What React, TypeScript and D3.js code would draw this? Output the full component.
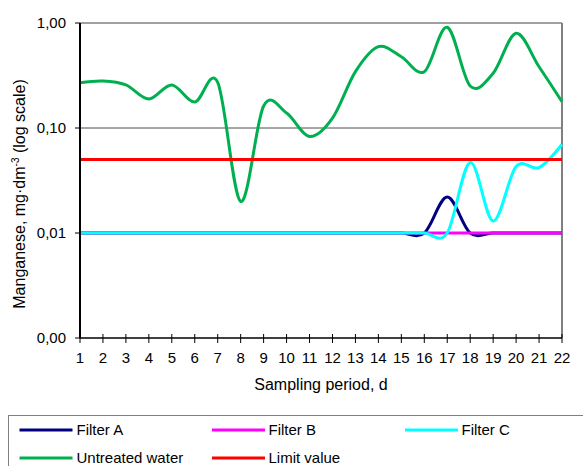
import React from "react";
import * as d3 from "d3";

const days = [1, 2, 3, 4, 5, 6, 7, 8, 9, 10, 11, 12, 13, 14, 15, 16, 17, 18, 19, 20, 21, 22];
const filterA = [0.01, 0.01, 0.01, 0.01, 0.01, 0.01, 0.01, 0.01, 0.01, 0.01, 0.01, 0.01, 0.01, 0.01, 0.01, 0.01, 0.022, 0.01, 0.01, 0.01, 0.01, 0.01];
const filterB = [0.01, 0.01, 0.01, 0.01, 0.01, 0.01, 0.01, 0.01, 0.01, 0.01, 0.01, 0.01, 0.01, 0.01, 0.01, 0.01, 0.01, 0.01, 0.01, 0.01, 0.01, 0.01];
const filterC = [0.01, 0.01, 0.01, 0.01, 0.01, 0.01, 0.01, 0.01, 0.01, 0.01, 0.01, 0.01, 0.01, 0.01, 0.01, 0.01, 0.01, 0.047, 0.013, 0.043, 0.042, 0.07];
const untreated = [0.27, 0.28, 0.257, 0.189, 0.257, 0.177, 0.272, 0.02, 0.162, 0.139, 0.083, 0.124, 0.344, 0.595, 0.477, 0.344, 0.91, 0.251, 0.332, 0.798, 0.383, 0.178];
const limit = [0.05, 0.05, 0.05, 0.05, 0.05, 0.05, 0.05, 0.05, 0.05, 0.05, 0.05, 0.05, 0.05, 0.05, 0.05, 0.05, 0.05, 0.05, 0.05, 0.05, 0.05, 0.05];

const yTickValues = [0.001, 0.01, 0.1, 1];
const yTickLabels = ["0,00", "0,01", "0,10", "1,00"];

const seriesNames = ["Filter A", "Filter B", "Filter C", "Untreated water", "Limit value"];
const seriesColors = ["#000080", "#FF00FF", "#00FFFF", "#00B050", "#FF0000"];
const seriesData = [filterA, filterB, filterC, untreated, limit];

const FONT = "'Liberation Sans', Arial, sans-serif";

export default function App() {
  const left = 80, right = 562, top = 23, bottom = 338;
  const x = d3.scaleLinear().domain([1, 22]).range([left, right]);
  const y = d3.scaleLog().domain([0.001, 1]).range([bottom, top]);
  const line = d3
    .line<number>()
    .x((_, i) => x(days[i]))
    .y((d) => y(d))
    .curve(d3.curveCardinal.tension(0));

  const legendPos = [
    { lx: 19.5, ly: 430, tx: 76.5, ty: 435 },
    { lx: 212, ly: 430, tx: 268.5, ty: 435 },
    { lx: 405, ly: 430, tx: 461.5, ty: 435 },
    { lx: 19.5, ly: 458, tx: 76.5, ty: 463 },
    { lx: 212, ly: 458, tx: 268.5, ty: 463 },
  ];

  return (
    <svg
      width={583}
      height={466}
      style={{ position: "absolute", left: 0, top: 0, background: "#fff" }}
      fontFamily={FONT}
    >
      <rect x={0} y={0} width={583} height={466} fill="#fff" />
      {/* gridlines */}
      {[0.01, 0.1].map((v) => (
        <line key={v} x1={left} x2={right} y1={y(v)} y2={y(v)} stroke="#4d4d4d" strokeWidth={1} />
      ))}
      {/* top and right border */}
      <line x1={left} x2={right} y1={y(1)} y2={y(1)} stroke="#808080" strokeWidth={1.5} />
      <line x1={right} x2={right} y1={top} y2={bottom} stroke="#808080" strokeWidth={2} />

      {/* series */}
      {seriesData.map((s, i) => (
        <path key={i} d={line(s) || ""} fill="none" stroke={seriesColors[i]} strokeWidth={3} strokeLinejoin="round" />
      ))}

      {/* axes */}
      <line x1={left} x2={left} y1={top} y2={bottom} stroke="#000" strokeWidth={2} />
      <line x1={left} x2={right} y1={bottom} y2={bottom} stroke="#000" strokeWidth={1.5} />
      {yTickValues.map((v, i) => (
        <g key={v}>
          <line x1={left - 5} x2={left} y1={y(v)} y2={y(v)} stroke="#000" strokeWidth={1} />
          <text x={66} y={y(v) + 5.3} textAnchor="end" fontSize={15} fill="#000">
            {yTickLabels[i]}
          </text>
        </g>
      ))}
      {days.map((d) => (
        <g key={d}>
          <line x1={x(d)} x2={x(d)} y1={bottom - 4} y2={bottom + 5} stroke="#000" strokeWidth={1} />
          <text x={x(d)} y={363} textAnchor="middle" fontSize={15} fill="#000">
            {d}
          </text>
        </g>
      ))}

      <text x={(left + right) / 2} y={390} textAnchor="middle" fontSize={16} fill="#000">
        Sampling period, d
      </text>
      <text transform="translate(25,194) rotate(-90)" textAnchor="middle" fontSize={16} fill="#000">
        Manganese, mg·dm
        <tspan fontSize={10} dy={-6}>-3</tspan>
        <tspan dy={6}> (log scale)</tspan>
      </text>

      {/* legend */}
      <rect x={8.5} y={415.5} width={600} height={70} fill="none" stroke="#808080" strokeWidth={1} />
      {seriesNames.map((n, i) => (
        <g key={n}>
          <line
            x1={legendPos[i].lx}
            x2={legendPos[i].lx + 53}
            y1={legendPos[i].ly}
            y2={legendPos[i].ly}
            stroke={seriesColors[i]}
            strokeWidth={3}
          />
          <text x={legendPos[i].tx} y={legendPos[i].ty} fontSize={15} fill="#000">
            {n}
          </text>
        </g>
      ))}
    </svg>
  );
}
